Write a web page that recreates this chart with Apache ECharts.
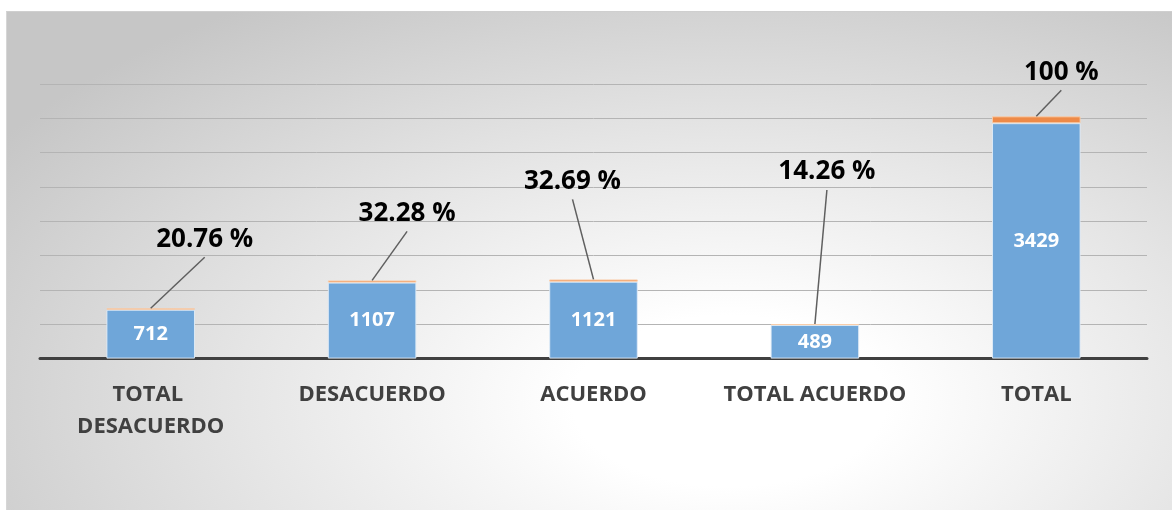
<!DOCTYPE html>
<html>
<head>
<meta charset="utf-8">
<script src="https://cdn.jsdelivr.net/npm/echarts@6/dist/echarts.min.js"></script>
<style>
  html, body { margin: 0; padding: 0; background: #ffffff; }
  #bg {
    position: absolute; left: 6px; top: 11px; width: 1165px; height: 499px;
    border-top: 1px solid #cfcfcf; border-left: 1px solid #d6d6d6; border-right: 1px solid #cfcfcf;
    background: radial-gradient(ellipse 75% 95% at 62% 78%, #ffffff 0%, #ffffff 18%, #e6e6e6 55%, #c6c6c6 100%);
  }
  #chart { position: absolute; left: 0; top: 0; width: 1172px; height: 510px; }
</style>
</head>
<body>
<div id="bg"></div>
<div id="chart"></div>
<script>
const categories = ['TOTAL DESACUERDO', 'DESACUERDO', 'ACUERDO', 'TOTAL ACUERDO', 'TOTAL'];
const counts = [712, 1107, 1121, 489, 3429];
const percents = [20.76, 32.28, 32.69, 14.26, 100];
// callout label centre offsets (px) from the top of each stacked bar
const calloutOffsets = [[54, -69], [35, -67], [-21, -98], [12, -152], [25, -44]];

const tops = counts.map((c, i) => c + percents[i]);

const chart = echarts.init(document.getElementById('chart'), null, { renderer: 'canvas' });
const FONT = '"Open Sans", Lato, sans-serif';

chart.setOption({
  backgroundColor: 'transparent',
  animation: false,
  grid: { left: 40, right: 25, top: 84, bottom: 151.4, containLabel: false },
  xAxis: {
    type: 'category',
    data: categories,
    axisLine: { show: true, lineStyle: { color: '#404040', width: 3 } },
    axisTick: { show: false },
    axisLabel: {
      color: '#404040', fontFamily: FONT, fontWeight: 'bold', fontSize: 22,
      lineHeight: 32, margin: 20, interval: 0,
      width: 205, overflow: 'break'
    }
  },
  yAxis: {
    type: 'value', min: 0, max: 4000, interval: 500,
    axisLine: { show: false }, axisTick: { show: false }, axisLabel: { show: false },
    splitLine: { lineStyle: { color: '#b4b4b4', width: 1 } }
  },
  series: [
    {
      name: 'Cantidad', type: 'bar', stack: 'a', data: counts,
      barCategoryGap: '60%',
      itemStyle: { color: '#6fa6d9', borderColor: 'rgba(225,236,247,0.9)', borderWidth: 1 },
      label: {
        show: true, position: 'inside', color: '#ffffff',
        fontFamily: FONT, fontWeight: 'bold', fontSize: 20
      }
    },
    {
      name: 'Porcentaje', type: 'bar', stack: 'a', data: percents,
      itemStyle: { color: '#ee8a48', borderColor: 'rgba(250,205,170,0.9)', borderWidth: 1 },
      label: { show: false }
    },
    {
      name: 'Etiqueta', type: 'custom', silent: true, z: 5,
      data: tops.map((v, i) => [i, v]),
      encode: { x: 0, y: 1 },
      renderItem: (params, api) => {
        const i = params.dataIndex;
        const p = api.coord([api.value(0), api.value(1)]);
        const [ox, oy] = calloutOffsets[i];
        const cx = p[0] + ox, cy = p[1] + oy;
        return {
          type: 'group',
          children: [
            {
              type: 'line',
              shape: { x1: p[0], y1: p[1], x2: cx, y2: cy + 18 },
              style: { stroke: '#5f5f5f', lineWidth: 1.5 }
            },
            {
              type: 'text', x: cx, y: cy,
              style: {
                text: percents[i] + ' %', fill: '#000000',
                font: 'bold 26px ' + FONT, align: 'center', verticalAlign: 'middle'
              }
            }
          ]
        };
      }
    }
  ]
});
</script>
</body>
</html>
